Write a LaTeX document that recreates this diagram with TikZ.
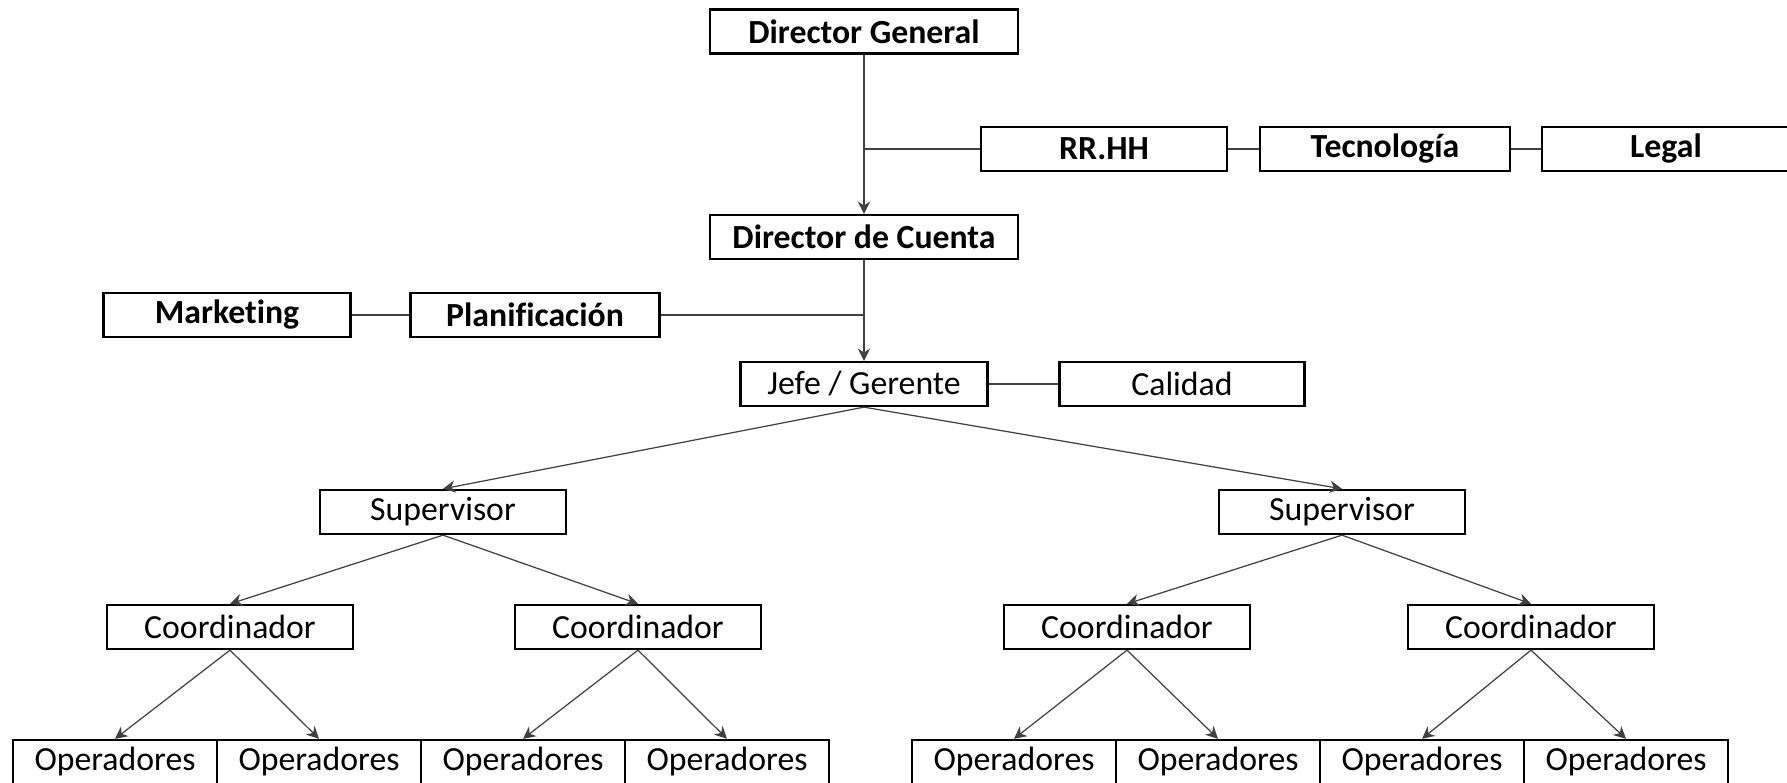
\documentclass[tikz,border=0pt]{standalone}
\usepackage{fontspec}
\setmainfont{Carlito}[Ligatures={NoCommon,NoContextual,NoRequired}]
\usetikzlibrary{arrows.meta}

\begin{document}
\begin{tikzpicture}[x=0.01cm,y=-0.01cm,
	unit/.style={draw,rectangle,line width=0.65pt,minimum height=0.44cm,inner sep=0pt,font=\fontsize{9.6}{11}\selectfont},
	unitb/.style={unit,font=\fontsize{9.6}{11}\selectfont\bfseries},
	link/.style={draw=black!75,line width=0.35pt},
	arr/.style={link,-{Stealth[length=3.5pt,width=3.5pt]}}]
					\useasboundingbox (0,0) rectangle (1787,783);
					% upper levels
					\node[unitb,minimum width=3.08cm] (dg) at (864,31.5) {Director General};
					\node[unitb,minimum width=2.46cm] (rrhh) at (1104,149) {RR.HH};
					\node[unitb,minimum width=2.50cm] (tec) at (1385,149) {Tecnología};
					\node[unitb,minimum width=2.48cm] (legal) at (1666,149) {Legal};
					\node[unitb,minimum width=3.08cm] (dc) at (864,237) {Director de Cuenta};
					\node[unitb,minimum width=2.47cm] (mkt) at (227,315) {Market\kern0pt ing};
					\node[unitb,minimum width=2.49cm] (plan) at (535,315) {Planif\kern0pt icación};
					\node[unit,minimum width=2.47cm] (jefe) at (864,384) {Jefe / Gerente};
					\node[unit,minimum width=2.45cm] (cal) at (1182,384) {Calidad};
					\coordinate (j1) at (864,149);
					\coordinate (j2) at (864,315);
					% supervisors and coordinators
					\node[unit,minimum width=2.46cm] (supl) at (443,512) {Supervisor};
					\node[unit,minimum width=2.46cm] (supr) at (1342,512) {Supervisor};
					\node[unit,minimum width=2.46cm] (co1) at (230,627) {Coordinador};
					\node[unit,minimum width=2.46cm] (co2) at (638,627) {Coordinador};
					\node[unit,minimum width=2.46cm] (co3) at (1127,627) {Coordinador};
					\node[unit,minimum width=2.46cm] (co4) at (1531,627) {Coordinador};
					% operators
					\node[unit,minimum width=2.04cm] (op1) at (115,762) {Operadores};
					\node[unit,minimum width=2.04cm] (op2) at (319,762) {Operadores};
					\node[unit,minimum width=2.04cm] (op3) at (523,762) {Operadores};
					\node[unit,minimum width=2.04cm] (op4) at (727,762) {Operadores};
					\node[unit,minimum width=2.04cm] (op5) at (1014,762) {Operadores};
					\node[unit,minimum width=2.04cm] (op6) at (1218,762) {Operadores};
					\node[unit,minimum width=2.04cm] (op7) at (1422,762) {Operadores};
					\node[unit,minimum width=2.04cm] (op8) at (1626,762) {Operadores};
					% connectors
					\draw[arr] (dg) -- (dc);
					\draw[link] (j1) -- (rrhh);
					\draw[link] (rrhh) -- (tec);
					\draw[link] (tec) -- (legal);
					\draw[arr] (dc) -- (jefe);
					\draw[link] (mkt) -- (plan);
					\draw[link] (plan) -- (j2);
					\draw[link] (jefe) -- (cal);
					\draw[arr] (jefe.south) -- (supl.north);
					\draw[arr] (jefe.south) -- (supr.north);
					\draw[arr] (supl.south) -- (co1.north);
					\draw[arr] (supl.south) -- (co2.north);
					\draw[arr] (supr.south) -- (co3.north);
					\draw[arr] (supr.south) -- (co4.north);
					\draw[arr] (co1.south) -- (op1.north);
					\draw[arr] (co1.south) -- (op2.north);
					\draw[arr] (co2.south) -- (op3.north);
					\draw[arr] (co2.south) -- (op4.north);
					\draw[arr] (co3.south) -- (op5.north);
					\draw[arr] (co3.south) -- (op6.north);
					\draw[arr] (co4.south) -- (op7.north);
					\draw[arr] (co4.south) -- (op8.north);
				\end{tikzpicture}
\end{document}
